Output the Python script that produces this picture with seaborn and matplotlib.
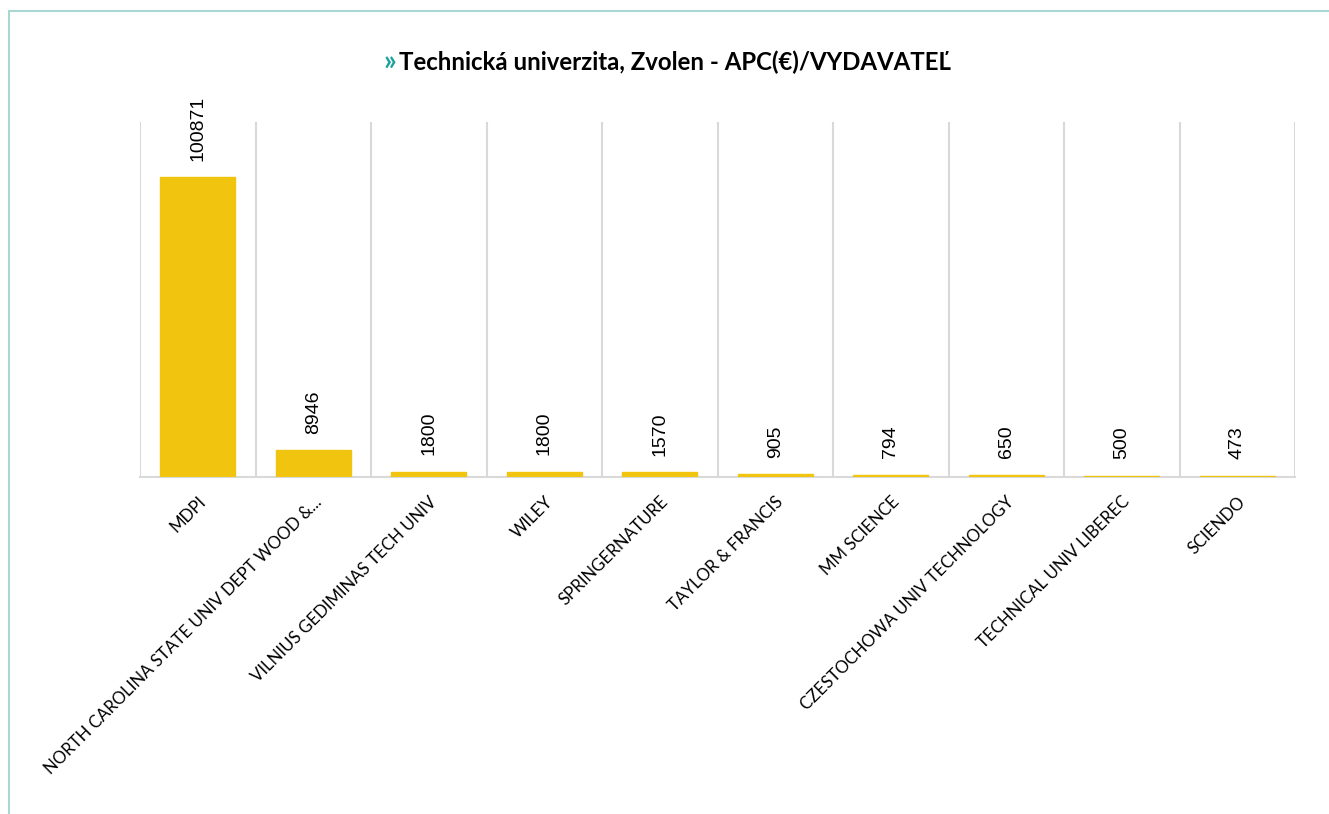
import matplotlib
matplotlib.use("Agg")
import matplotlib.pyplot as plt
import matplotlib.lines as mlines
import seaborn as sns
import numpy as np
import pandas as pd

# Données du graphique
vydavatelia = [
    "MDPI",
    "NORTH CAROLINA STATE UNIV DEPT WOOD &...",
    "VILNIUS GEDIMINAS TECH UNIV",
    "WILEY",
    "SPRINGERNATURE",
    "TAYLOR & FRANCIS",
    "MM SCIENCE",
    "CZESTOCHOWA UNIV TECHNOLOGY",
    "TECHNICAL UNIV LIBEREC",
    "SCIENDO",
]
apc = [100871, 8946, 1800, 1800, 1570, 905, 794, 650, 500, 473]

titulok = "Technická univerzita, Zvolen - APC(€)/VYDAVATEĽ"

df = pd.DataFrame({"vydavatel": vydavatelia, "apc": apc})

sns.set_theme(style="white")
plt.rcParams["font.family"] = ["Lato", "DejaVu Sans"]

fig = plt.figure(figsize=(13.29, 8.14), dpi=100)
ax = fig.add_axes([140 / 1329, 1 - 477 / 814, 1155 / 1329, 355 / 814])

sns.barplot(data=df, x="vydavatel", y="apc", color="#F1C40F",
            width=0.65, saturation=1, ax=ax, zorder=3,
            edgecolor="#F1C40F", linewidth=1)

# Étiquettes de valeurs
ax.bar_label(ax.containers[0], labels=[str(v) for v in apc],
             rotation=90, padding=12, fontsize=14,
             family="Liberation Sans", color="#000000")

ax.set_ylim(0, 119500)
ax.set_xlim(-0.5, len(vydavatelia) - 0.5)
ax.set_yticks([])
ax.set_xlabel("")
ax.set_ylabel("")

# Lignes verticales entre catégories
ax.set_xticks(np.arange(len(vydavatelia) + 1) - 0.5, minor=True)
ax.grid(True, which="minor", axis="x", color="#d9d9d9", linewidth=1.5)
ax.grid(False, which="major")
ax.tick_params(axis="x", which="both", length=0)

ax.set_xticks(np.arange(len(vydavatelia)))
ax.set_xticklabels(vydavatelia, rotation=45, ha="right",
                   rotation_mode="anchor", fontsize=12.2, color="#000000")
ax.tick_params(axis="x", which="major", pad=12)

for side in ["top", "left", "right"]:
    ax.spines[side].set_visible(False)
ax.spines["bottom"].set_color("#d9d9d9")
ax.spines["bottom"].set_linewidth(1.5)
ax.spines["bottom"].set_zorder(1)

# Titre
fig.text(383 / 1329, 1 - 62 / 814, "»", color="#1aa39d", fontsize=20,
         fontweight="bold", ha="left", va="center")
fig.text(399 / 1329, 1 - 62 / 814, titulok, color="#000000", fontsize=17.3,
         fontweight="bold", ha="left", va="center")

# Bordure
fig.add_artist(mlines.Line2D([9 / 1329, 1], [1 - 11 / 814, 1 - 11 / 814],
                             color="#a9d8d3", linewidth=1.5,
                             transform=fig.transFigure))
fig.add_artist(mlines.Line2D([9 / 1329, 9 / 1329], [0, 1 - 11 / 814],
                             color="#a9d8d3", linewidth=1.5,
                             transform=fig.transFigure))

fig.savefig("out.png", dpi=100)
